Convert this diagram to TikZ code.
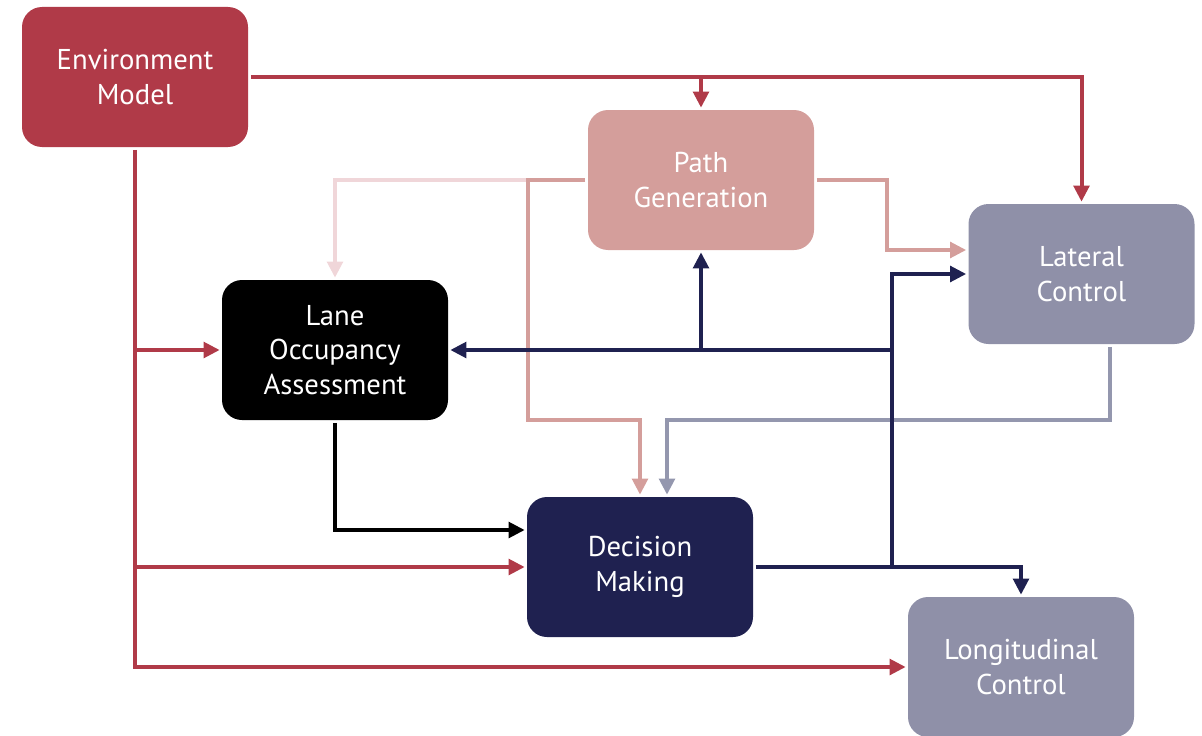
\documentclass[tikz,border=0pt]{standalone}
\usepackage{fontspec}
\setmainfont{PT Sans}
\usetikzlibrary{arrows.meta,calc}

\definecolor{envred}{HTML}{B03A48}
\definecolor{pathpink}{HTML}{D49E9B}
\definecolor{palepink}{HTML}{F0D6D9}
\definecolor{ctrlgrey}{HTML}{8F90A8}
\definecolor{ctrlline}{HTML}{9497AE}
\definecolor{navy}{HTML}{1F2150}

\tikzset{
  block/.style={rectangle, rounded corners=15pt, minimum width=169.5pt,
    minimum height=105pt, inner sep=0pt, align=center, text=white,
    font=\fontsize{21.5}{25.8}\selectfont},
  link/.style={line width=3pt, -{Triangle[length=12pt,width=11.5pt]},
    shorten >=1.5pt, shorten <=2pt},
  tap/.style={line width=3pt, -{Triangle[length=12pt,width=11.5pt]},
    shorten >=1.5pt}
}

\begin{document}
\begin{tikzpicture}[x=0.75pt, y=-0.75pt]
  \useasboundingbox (0,0) rectangle (1202,735);
  \clip (0,0) rectangle (1202,735);

  % blocks
  \node[block, fill=envred]   (env)  at (135,77)    {Environment\\Model};
  \node[block, fill=pathpink] (path) at (701,180)   {Path\\Generation};
  \node[block, fill=ctrlgrey] (lat)  at (1081.5,274){Lateral\\Control};
  \node[block, fill=black]    (lane) at (335,350)   {Lane\\Occupancy\\Assessment};
  \node[block, fill=navy]     (dec)  at (640,567)   {Decision\\Making};
  \node[block, fill=ctrlgrey] (lon)  at (1021,667)  {Longitudinal\\Control};

  % environment model outputs
  \draw[link, envred] (env.east) -| (lat.north);
  \draw[tap, envred] (env.east -| path.north) -- (path.north);
  \draw[link, envred] (env.south) |- (lon.west);
  \draw[tap, envred] (env.south |- lane.west) -- (lane.west);
  \draw[tap, envred] (env.south |- dec.west) -- (dec.west);

  % path generation outputs
  \draw[link, palepink] (path.west) -| (lane.north);
  \coordinate (pk) at (528,420);
  \draw[link, pathpink] (path.west) -| (pk) -| (dec.north);
  \draw[link, pathpink] (path.east) -- ++(73,0) |- ($(lat.west)+(0,-24)$);

  % lateral control feedback
  \coordinate (latout) at ($(lat.south)+(28.5,0)$);
  \coordinate (decin) at ($(dec.north)+(27,0)$);
  \draw[link, ctrlline] (latout) -- ++(0,76) -| (decin);

  % lane occupancy to decision making
  \draw[link, black] (lane.south) |- ($(dec.west)+(0,-37)$);

  % decision making outputs
  \draw[link, navy] (dec.east) -| (lon.north);
  \coordinate (nv) at (892,567);
  \draw[tap, navy] (nv) |- (lat.west);
  \draw[tap, navy] (nv |- lane.east) -- (lane.east);
  \draw[tap, navy] (path.south |- lane.east) -- (path.south);
\end{tikzpicture}
\end{document}
